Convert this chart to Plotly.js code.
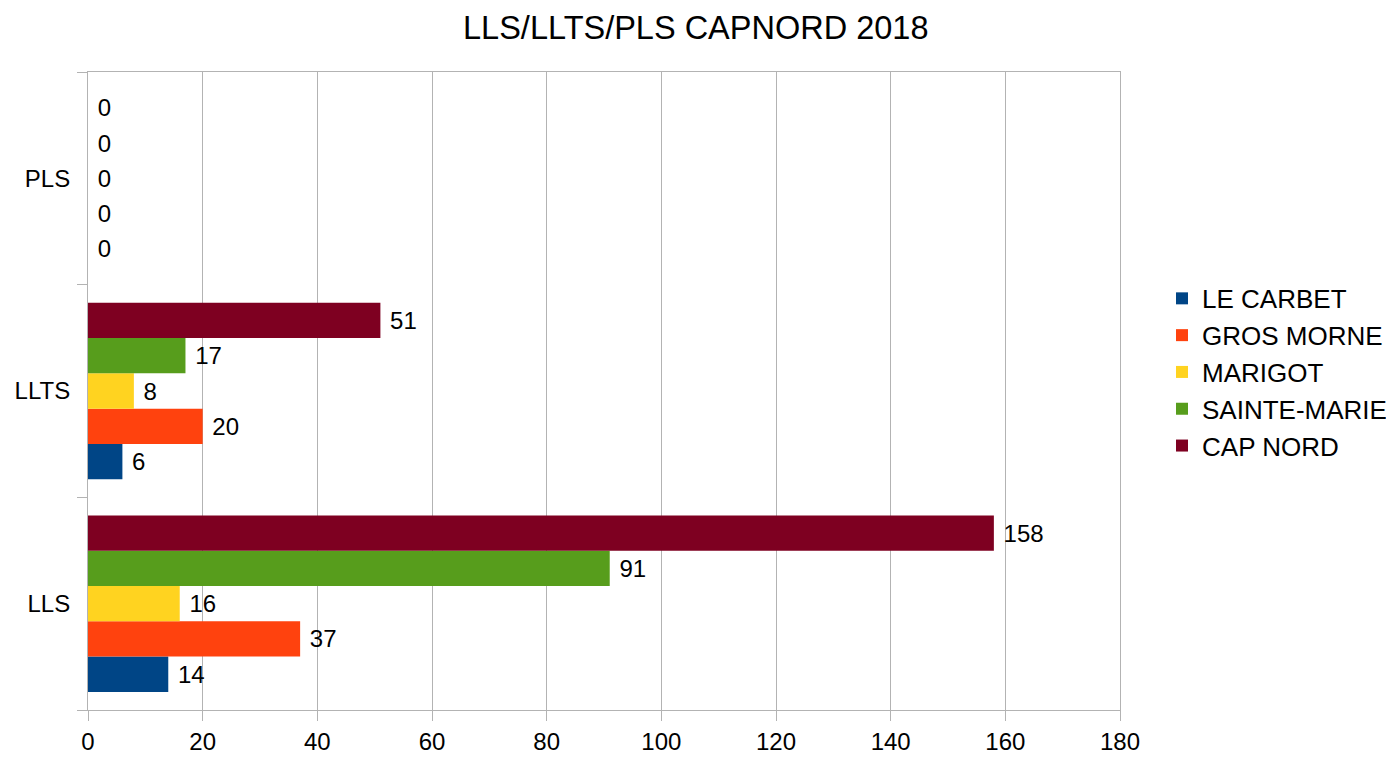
<!DOCTYPE html>
<html>
<head>
<meta charset="utf-8">
<script src="https://cdn.plot.ly/plotly-3.0.1.min.js"></script>
<style>
  html, body { margin: 0; padding: 0; background: #fff; }
  #chart { width: 1386px; height: 757px; }
</style>
</head>
<body>
<div id="chart"></div>
<script>
const categories = ["LLS", "LLTS", "PLS"];
const seriesNames = ["LE CARBET", "GROS MORNE", "MARIGOT", "SAINTE-MARIE", "CAP NORD"];
const leCarbet = [14, 6, 0];
const grosMorne = [37, 20, 0];
const marigot = [16, 8, 0];
const sainteMarie = [91, 17, 0];
const capNord = [158, 51, 0];
const colors = ["#004586", "#ff420e", "#ffd320", "#579d1c", "#7e0021"];
const xTicks = [0, 20, 40, 60, 80, 100, 120, 140, 160, 180];

const FONT = "Liberation Sans, Arial, sans-serif";
const GRID = "#b3b3b3";

function buildTrace(values, name, color) {
  return {
    type: "bar",
    orientation: "h",
    x: values,
    y: categories,
    name,
    marker: { color },
    // small leading gap like the original labels
    text: values.map((v) => "\u00a0" + v),
    textposition: "outside",
    constraintext: "none",
    cliponaxis: false,
    textfont: { family: FONT, size: 24, color: "#000" },
    hoverinfo: "x+name"
  };
}

const allSeries = [leCarbet, grosMorne, marigot, sainteMarie, capNord];
const traces = allSeries.map((values, i) => buildTrace(values, seriesNames[i], colors[i]));

Plotly.newPlot("chart", traces, {
  width: 1386,
  height: 757,
  margin: { t: 72, r: 266, l: 88, b: 47 },
  paper_bgcolor: "#fff",
  plot_bgcolor: "#fff",
  font: { family: FONT, size: 24, color: "#000" },
  title: {
    text: "LLS/LLTS/PLS CAPNORD 2018",
    font: { family: FONT, size: 32.5, color: "#000" },
    x: 0.502,
    xanchor: "center",
    y: 0.963,
    yanchor: "middle"
  },
  barmode: "group",
  bargap: 0.17,
  bargroupgap: 0,
  xaxis: {
    range: [0, 180],
    tickvals: xTicks,
    ticktext: xTicks.map(String),
    showgrid: true,
    gridcolor: GRID,
    gridwidth: 1,
    zeroline: false,
    showline: true,
    linecolor: GRID,
    mirror: true,
    ticks: "outside",
    ticklen: 10,
    tickcolor: GRID,
    tickfont: { family: FONT, size: 24, color: "#000" }
  },
  yaxis: {
    type: "category",
    categoryorder: "array",
    categoryarray: categories,
    showgrid: false,
    showline: true,
    linecolor: GRID,
    mirror: true,
    ticks: "outside",
    tickson: "boundaries",
    ticklen: 10,
    tickcolor: GRID,
    ticklabelstandoff: 12,
    tickfont: { family: FONT, size: 24, color: "#000" }
  },
  legend: {
    xref: "container",
    yref: "container",
    x: 0.8384,
    xanchor: "left",
    y: 0.508,
    yanchor: "middle",
    font: { family: FONT, size: 26, color: "#000" },
    traceorder: "normal"
  },
  showlegend: true
}, { displayModeBar: false });
</script>
</body>
</html>
